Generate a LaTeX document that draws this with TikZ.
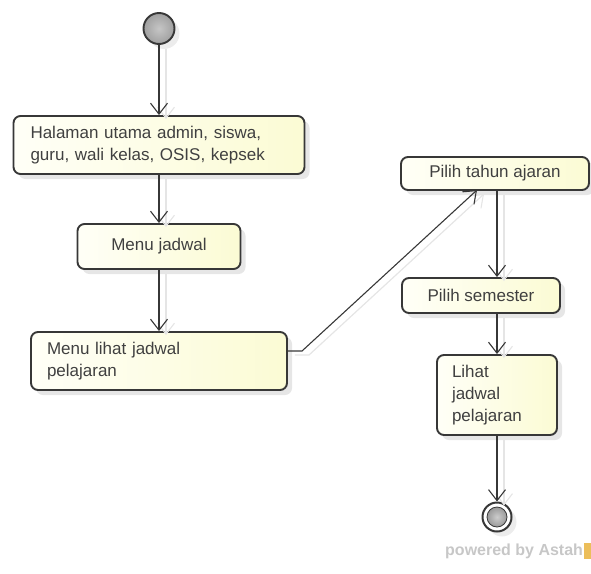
\documentclass[tikz,border=0pt]{standalone}
\usepackage{fontspec}
\setmainfont{Liberation Sans}
\usetikzlibrary{graphs}
\usetikzlibrary{arrows.meta}
\usetikzlibrary{shadows}

\definecolor{boxline}{RGB}{55,55,55}
\definecolor{boxlight}{RGB}{255,255,247}
\definecolor{boxdark}{RGB}{251,251,212}
\definecolor{logoorange}{RGB}{236,190,90}

\tikzset{
    action/.style={draw=boxline, line width=1.9pt, rounded corners=7pt,
        left color=boxlight, right color=boxdark, inner sep=0pt,
        drop shadow={opacity=0.2, shadow xshift=5pt, shadow yshift=-5pt},
        font=\fontsize{17}{22}\selectfont, text=black!75},
    flow/.style={draw=boxline, line width=1.1pt,
        preaction={draw=black!10, line width=1.2pt,
            transform canvas={shift={(7pt,-4pt)}}}},
    >={Straight Barb[length=11pt,width=17pt,line width=1.1pt]}
}

\begin{document}
\begin{tikzpicture}[x=1pt, y=-1pt]
            \useasboundingbox (0,0) rectangle (591,573);

            \node[circle, draw=boxline, line width=1.9pt, minimum size=31pt,
                inner color=gray!45, outer color=gray!75,
                drop shadow={opacity=0.15, shadow xshift=5pt, shadow yshift=-5pt}] (start) at (159,28.5) {};

            \node[action, minimum width=291pt, minimum height=58pt, text width=257pt, align=left]
                (home) at (159,145) {Halaman utama admin, siswa,\\guru, wali kelas, OSIS, kepsek};
            \node[action, minimum width=163pt, minimum height=45pt]
                (menu) at (159,246.5) {Menu jadwal};
            \node[action, minimum width=256pt, minimum height=58pt, text width=224pt, align=left]
                (menulihat) at (159,361) {Menu lihat jadwal\\pelajaran};

            \node[action, minimum width=188pt, minimum height=33pt]
                (tahun) at (495,173.5) {Pilih tahun ajaran};
            \node[action, minimum width=158pt, minimum height=35pt]
                (semester) at (481,295.5) {Pilih semester};
            \node[action, minimum width=120pt, minimum height=80pt, text width=90pt, align=left]
                (lihat) at (497,395) {Lihat\\jadwal\\pelajaran};

            \node[circle, draw=boxline, line width=2pt, minimum size=29pt, fill=white,
                drop shadow={opacity=0.15, shadow xshift=5pt, shadow yshift=-5pt}] (final) at (497,517) {};
            \node[circle, minimum size=20pt, inner color=gray!40, outer color=gray!80,
                draw=boxline, line width=0.8pt] (finaldot) at (final) {};

            \coordinate (bend) at (302,351);
            \coordinate (entry) at (477,190);

            \graph {(start) ->[flow] (home)};
            \graph {(home) ->[flow] (menu)};
            \graph {(menu) ->[flow] (menulihat)};
            \draw[flow, ->] (menulihat.east |- bend) -- (bend) -- (entry);
            \draw[flow, ->] (tahun.south -| lihat.north) -- (semester.north -| lihat.north);
            \draw[flow, ->] (semester.south -| lihat.north) -- (lihat.north);
            \graph {(lihat) ->[flow] (final)};

            % astah footer
            \node[anchor=base west, inner sep=0pt, text=black!22,
                font=\bfseries\fontsize{16}{16}\selectfont] (powered) at (445,555) {powered by Astah};
            \fill[logoorange] (584,543) rectangle (591,559);
        \end{tikzpicture}
\end{document}
